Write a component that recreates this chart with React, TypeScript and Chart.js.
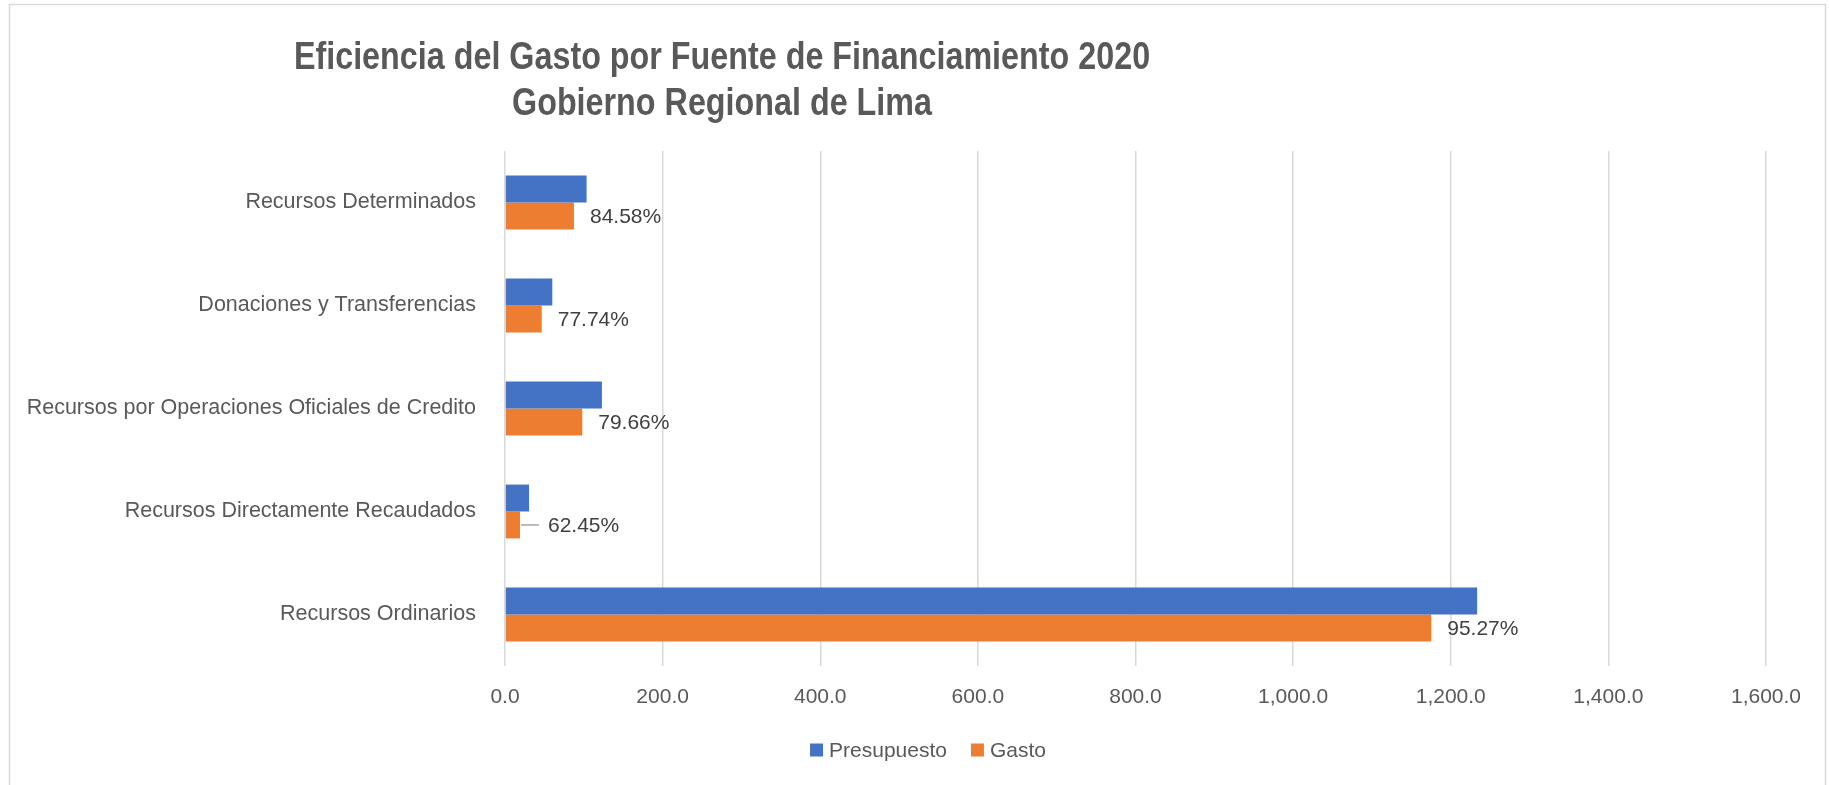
import React, { useEffect, useRef } from "react";
import { Chart, registerables } from "chart.js";

Chart.register(...registerables);

const categories = [
  "Recursos Determinados",
  "Donaciones y Transferencias",
  "Recursos por Operaciones Oficiales de Credito",
  "Recursos Directamente Recaudados",
  "Recursos Ordinarios",
];
const presupuesto = [103.5, 60.0, 123.0, 30.5, 1233.5];
const gasto = [87.5, 46.6, 98.0, 19.0, 1175.2];
const eficiencia = ["84.58%", "77.74%", "79.66%", "62.45%", "95.27%"];
const seriesNames = ["Presupuesto", "Gasto"];
const titleLines = [
  "Eficiencia del Gasto por Fuente de Financiamiento 2020",
  "Gobierno Regional de Lima",
];
const xMin = 0;
const xMax = 1600;
const xStep = 200;

const BLUE = "#4472C4";
const ORANGE = "#ED7D31";
const TEXT = "#595959";
const LABEL = "#404040";
const FONT = '"Liberation Sans", Arial, sans-serif';

const framePlugin = {
  id: "frame",
  beforeDraw(chart: any) {
    const ctx = chart.ctx;
    ctx.save();
    ctx.fillStyle = "#ffffff";
    ctx.fillRect(0, 0, chart.width, chart.height);
    ctx.strokeStyle = "#d9d9d9";
    ctx.lineWidth = 1.5;
    ctx.strokeRect(9.5, 4.5, chart.width - 13, chart.height + 20);
    ctx.restore();
  },
};

const titlePlugin = {
  id: "customTitle",
  afterDraw(chart: any) {
    const ctx = chart.ctx;
    ctx.save();
    ctx.fillStyle = TEXT;
    ctx.textAlign = "center";
    ctx.textBaseline = "middle";
    ctx.font = 'bold 38px "Liberation Sans", Arial, sans-serif';
    const cx = 722;
    const sx = 0.85;
    ctx.translate(cx, 0);
    ctx.scale(sx, 1);
    ctx.fillText(titleLines[0], 0, 59);
    ctx.fillText(titleLines[1], 0, 105);
    ctx.restore();
  },
};

const dataLabelPlugin = {
  id: "dataLabels",
  afterDatasetsDraw(chart: any) {
    const ctx = chart.ctx;
    const meta = chart.getDatasetMeta(1);
    ctx.save();
    ctx.font = "21px " + FONT;
    ctx.fillStyle = LABEL;
    ctx.textAlign = "left";
    ctx.textBaseline = "middle";
    meta.data.forEach((bar: any, i: number) => {
      const w = bar.x - bar.base;
      if (w < 20) {
        ctx.strokeStyle = "#a6a6a6";
        ctx.lineWidth = 1.5;
        ctx.beginPath();
        ctx.moveTo(bar.x + 1, bar.y);
        ctx.lineTo(bar.x + 19, bar.y);
        ctx.stroke();
        ctx.fillText(eficiencia[i], bar.x + 28, bar.y + 1);
      } else {
        ctx.fillText(eficiencia[i], bar.x + 16, bar.y + 1);
      }
    });
    ctx.restore();
  },
};

const legendPlugin = {
  id: "customLegend",
  afterDraw(chart: any) {
    const ctx = chart.ctx;
    const colors = [BLUE, ORANGE];
    ctx.save();
    ctx.font = "21px " + FONT;
    ctx.textBaseline = "middle";
    ctx.textAlign = "left";
    const box = 13;
    const gapText = 6;
    const gapItem = 24;
    const widths = seriesNames.map((n) => box + gapText + ctx.measureText(n).width);
    const total = widths.reduce((a, b) => a + b, 0) + gapItem * (seriesNames.length - 1);
    let x = 928 - total / 2;
    const y = 750;
    seriesNames.forEach((n, i) => {
      ctx.fillStyle = colors[i];
      ctx.fillRect(x, y - box / 2, box, box);
      ctx.fillStyle = TEXT;
      ctx.fillText(n, x + box + gapText, y + 1);
      x += widths[i] + gapItem;
    });
    ctx.restore();
  },
};

export default function App() {
  const ref = useRef<HTMLCanvasElement | null>(null);
  useEffect(() => {
    if (!ref.current) return;
    const chart = new Chart(ref.current, {
      type: "bar",
      data: {
        labels: categories,
        datasets: [
          { label: seriesNames[0], data: presupuesto, backgroundColor: BLUE, categoryPercentage: 0.523, barPercentage: 1.0 },
          { label: seriesNames[1], data: gasto, backgroundColor: ORANGE, categoryPercentage: 0.523, barPercentage: 1.0 },
        ],
      },
      options: {
        indexAxis: "y",
        animation: false,
        responsive: false,
        layout: { padding: { top: 151, left: 0, right: 63, bottom: 0 } },
        plugins: {
          legend: { display: false },
          title: { display: false },
          tooltip: { enabled: false },
        },
        scales: {
          x: {
            min: xMin,
            max: xMax,
            ticks: {
              stepSize: xStep,
              padding: 19,
              color: TEXT,
              font: { size: 21, family: FONT },
              callback: (v: any) =>
                Number(v).toLocaleString("en-US", { minimumFractionDigits: 1, maximumFractionDigits: 1 }),
            },
            grid: { color: "#d9d9d9", lineWidth: 1.5, drawTicks: false },
            border: { display: false },
            afterFit: (s: any) => {
              s.height = 119;
            },
          },
          y: {
            ticks: {
              padding: 29,
              color: TEXT,
              font: { size: 21.5, family: FONT },
            },
            grid: { display: false, drawTicks: false },
            border: { display: false },
            afterFit: (s: any) => {
              s.width = 505;
            },
          },
        },
      },
      plugins: [framePlugin, titlePlugin, dataLabelPlugin, legendPlugin],
    });
    return () => chart.destroy();
  }, []);
  return (
    <div style={{ position: "fixed", left: 0, top: 0, width: 1829, height: 785, background: "#fff" }}>
      <canvas ref={ref} width={1829} height={785} />
    </div>
  );
}
